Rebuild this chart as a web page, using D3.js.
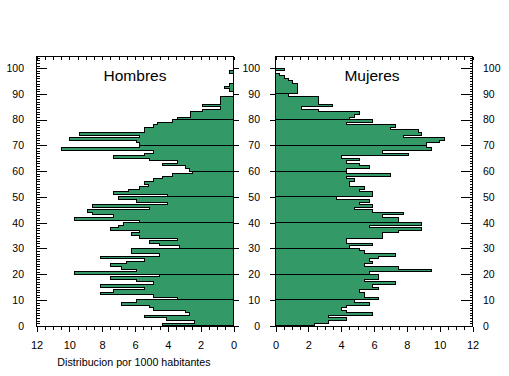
<!DOCTYPE html>
<html>
<head>
<meta charset="utf-8">
<script src="https://cdn.jsdelivr.net/npm/d3@7/dist/d3.min.js"></script>
<style>
body { margin: 0; background: #fff; }
svg { font-family: "Liberation Sans", Arial, sans-serif; }
</style>
</head>
<body>
<div id="chart"></div>
<script>
// edades 0..100, valores por 1000 habitantes
var ages = d3.range(0, 101)
var hombres = [
  4.3, 2.4, 4.1, 5.4, 2.7, 2.9, 4.9, 5.1, 6.8, 5.9,
  3.4, 4.9, 8.1, 7.3, 5.4, 8.1, 4.9, 5.9, 7.5, 4.5,
  9.7, 5.9, 6.8, 7.5, 6.5, 5.4, 8.1, 4.5, 6.2, 6.2,
  3.3, 4.5, 5.1, 3.4, 5.7, 6.2, 5.7, 7.5, 7.0, 6.7,
  5.7, 9.7, 7.3, 8.6, 8.9, 5.1, 8.6, 4.0, 5.9, 7.0,
  4.0, 7.3, 6.4, 5.7, 5.2, 5.4, 4.9, 4.3, 3.7, 2.5,
  2.7, 2.9, 4.3, 3.4, 5.1, 7.3, 5.4, 4.9, 10.5, 5.7,
  5.7, 5.9, 10.0, 5.7, 9.4, 5.4, 5.4, 4.9, 4.6, 3.7,
  3.4, 2.6, 2.6, 1.9, 0.8, 1.9, 0.8, 0.8, 0.8, 0,
  0, 0.25, 0.55, 0.25, 0, 0, 0, 0, 0.25, 0, 0
]
var mujeres = [
  2.4, 3.2, 4.3, 3.2, 5.9, 4.3, 4.0, 4.3, 5.7, 4.8,
  6.3, 5.4, 5.4, 5.1, 6.3, 5.9, 7.3, 5.4, 6.3, 6.3,
  5.7, 9.5, 7.5, 5.4, 5.9, 5.7, 6.3, 7.3, 5.4, 5.1,
  4.5, 5.9, 4.3, 4.3, 6.5, 6.5, 7.5, 8.9, 5.7, 8.9,
  7.5, 7.5, 6.5, 7.8, 5.9, 4.8, 5.9, 5.1, 5.7, 3.7,
  5.9, 5.9, 5.1, 5.4, 4.5, 4.5, 4.8, 4.3, 7.0, 4.3,
  4.3, 5.7, 5.1, 4.3, 5.1, 4.0, 8.1, 6.5, 9.5, 9.2,
  9.2, 10.0, 10.3, 7.8, 8.9, 8.7, 7.0, 7.3, 4.3, 5.9,
  4.5, 4.8, 5.1, 2.6, 1.6, 3.5, 2.6, 2.6, 2.6, 0.8,
  1.35, 1.35, 1.35, 1.35, 1.05, 0.8, 0.55, 0.25, 0, 0.55, 0
]
var xTicks = [0, 2, 4, 6, 8, 10, 12]
var yTicks = d3.range(0, 101, 10)
var titles = ["Hombres", "Mujeres"]
var xTitle = "Distribucion por 1000 habitantes"

var green = "#339966"
var plotTop = 56.5, plotBottom = 326.5

var svg = d3.select("#chart").append("svg")
  .attr("width", 509).attr("height", 376)

var y = d3.scaleLinear().domain([0, 100]).range([325.7, 68.1])
var xL = d3.scaleLinear().domain([0, 12]).range([233.5, 36.5])
var xR = d3.scaleLinear().domain([0, 12]).range([275.5, 472.5])

// one closed step outline per decade, so decade borders show as lines
function decades(values) {
  var rows = ages.map(function(a) { return {age: a, v: values[a]} })
  var groups = d3.groups(rows, function(d) { return Math.min(9, Math.floor(d.age / 10)) })
  return groups.map(function(g) {
    var pts = g[1].slice()
    var last = pts[pts.length - 1]
    pts.push({age: last.age + 1, v: last.v})
    return pts
  })
}

function drawBars(values, x) {
  var area = d3.area().curve(d3.curveStepBefore)
    .y(function(d) { return y(d.age) })
    .x0(x(0))
    .x1(function(d) { return x(d.v) })
  svg.append("g").selectAll("path")
    .data(decades(values))
    .join("path")
    .attr("d", area)
    .attr("fill", green)
    .attr("stroke", "#000")
    .attr("stroke-width", 1)
    .attr("shape-rendering", "crispEdges")
}

drawBars(hombres, xL)
drawBars(mujeres, xR)

// frames
;[xL, xR].forEach(function(x) {
  var r = x.range()
  svg.append("rect")
    .attr("x", Math.min(r[0], r[1])).attr("y", plotTop)
    .attr("width", Math.abs(r[1] - r[0])).attr("height", plotBottom - plotTop)
    .attr("fill", "none").attr("stroke", "#000")
    .attr("shape-rendering", "crispEdges")
})

function addAxis(axis, tx, ty, labels) {
  var g = svg.append("g")
    .attr("transform", "translate(" + tx + "," + ty + ")")
    .call(axis)
  g.select(".domain").remove()
  g.selectAll("line").attr("shape-rendering", "crispEdges")
  if (!labels) g.selectAll("text").remove()
  return g
}

var minorY = d3.range(0, 105)
var minorX = d3.range(0, 12.01, 0.5)

// y axes
// left side of Hombres: inward ticks, labels outside
addAxis(d3.axisRight(y).tickValues(minorY).tickSize(3), 36.5, 0)
addAxis(d3.axisRight(y).tickValues(yTicks).tickSize(10), 36.5, 0)
addAxis(d3.axisLeft(y).tickValues(yTicks).tickSize(0).tickPadding(12.5).tickFormat(d3.format("d")), 36.5, 0, true)
  .attr("font-size", 10.5).attr("font-family", null)
// right side of Hombres: outward major ticks
addAxis(d3.axisRight(y).tickValues(yTicks).tickSize(5), 233.5, 0)
// left side of Mujeres: outward ticks with labels
addAxis(d3.axisLeft(y).tickValues(yTicks).tickSize(6).tickPadding(9.5).tickFormat(d3.format("d")), 275.5, 0, true)
  .attr("font-size", 10.5).attr("font-family", null)
// right side of Mujeres: inward ticks, labels outside
addAxis(d3.axisLeft(y).tickValues(minorY).tickSize(3), 472.5, 0)
addAxis(d3.axisLeft(y).tickValues(yTicks).tickSize(12), 472.5, 0)
addAxis(d3.axisRight(y).tickValues(yTicks).tickSize(0).tickPadding(10.5).tickFormat(d3.format("d")), 472.5, 0, true)
  .attr("font-size", 10.5).attr("font-family", null)

// x axes, bottom and top
;[xL, xR].forEach(function(x) {
  addAxis(d3.axisBottom(x).tickValues(minorX).tickSize(3), 0, plotBottom)
  addAxis(d3.axisBottom(x).tickValues(xTicks).tickSize(5).tickPadding(10).tickFormat(d3.format("d")), 0, plotBottom, true)
    .attr("font-size", 11).attr("font-family", null)
  addAxis(d3.axisBottom(x).tickValues(minorX).tickSize(3), 0, plotTop)
})

svg.selectAll(".tick text").attr("fill", "#000")
svg.selectAll(".tick line").attr("stroke", "#000")

// titles
svg.append("text").attr("x", 135).attr("y", 81)
  .attr("text-anchor", "middle").attr("font-size", 15.5).text(titles[0])
svg.append("text").attr("x", 372).attr("y", 81)
  .attr("text-anchor", "middle").attr("font-size", 15.5).text(titles[1])
svg.append("text").attr("x", 134).attr("y", 366)
  .attr("text-anchor", "middle").attr("font-size", 10.7).text(xTitle)
</script>
</body>
</html>
